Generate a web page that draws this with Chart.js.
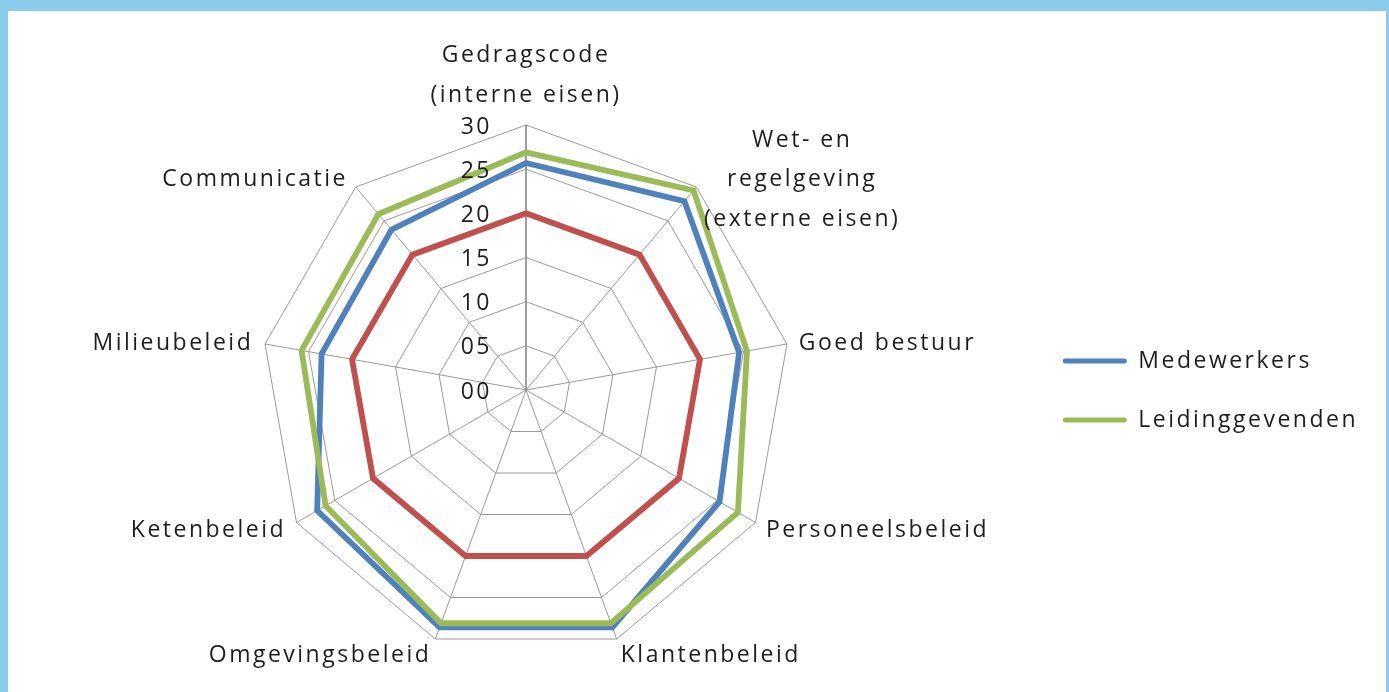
<!DOCTYPE html>
<html>
<head>
<meta charset="utf-8">
<script src="https://cdn.jsdelivr.net/npm/chart.js@4.4.1/dist/chart.umd.min.js"></script>
<style>
html, body { margin: 0; padding: 0; width: 1389px; height: 692px; overflow: hidden; background: #89CCEB; }
#box { position: absolute; left: 8px; top: 11px; width: 1378px; height: 681px; background: #ffffff; }
canvas { display: block; }
</style>
</head>
<body>
<div id="box"><canvas id="c" width="1378" height="681"></canvas></div>
<script>
// ---- data ----
const categories = [
  ['Gedragscode', '(interne eisen)'],
  ['Wet- en', 'regelgeving', '(externe eisen)'],
  'Goed bestuur',
  'Personeelsbeleid',
  'Klantenbeleid',
  'Omgevingsbeleid',
  'Ketenbeleid',
  'Milieubeleid',
  'Communicatie'
];
const medewerkers     = [25.7, 27.9, 24.5, 25.3, 28.6, 28.6, 27.3, 23.5, 23.7];
const referentie      = [20, 20, 20, 20, 20, 20, 20, 20, 20];
const leidinggevenden = [26.9, 29.5, 25.4, 27.7, 28.1, 28.1, 26.2, 25.8, 26.0];
const tickLabels = ['00', '05', '10', '15', '20', '25', '30'];
const seriesNames = ['Medewerkers', '', 'Leidinggevenden'];

// ---- styling ----
const BLUE = '#4F81BD', RED = '#C0504D', GREEN = '#9BBB59';
const TEXT = '#1e1e1e';
const FAMILY = '"Open Sans", sans-serif';
const FSIZE = 23;
const SPACING = '2.5px';
const LINE_H = 39.5;

const excelLabels = {
  id: 'excelLabels',
  beforeInit(chart) { chart.ctx.letterSpacing = SPACING; },
  beforeLayout(chart) { chart.ctx.letterSpacing = SPACING; },
  beforeDraw(chart) { chart.ctx.letterSpacing = SPACING; },
  afterDatasetsDraw(chart) {
    const ctx = chart.ctx, s = chart.scales.r;
    ctx.save();
    ctx.letterSpacing = SPACING;
    ctx.font = FSIZE + 'px ' + FAMILY;
    ctx.fillStyle = TEXT;
    ctx.textBaseline = 'middle';
    // value-axis tick labels, left of the vertical axis
    ctx.textAlign = 'right';
    s.ticks.forEach((t, i) => {
      const d = s.getDistanceFromCenterForValue(t.value);
      ctx.fillText(tickLabels[i], s.xCenter - 34, s.yCenter - d + 2);
    });
    // category labels
    chart.data.labels.forEach((lab, i) => {
      const lines = Array.isArray(lab) ? lab : [lab];
      const p = s.getPointPosition(i, s.drawingArea + 12);
      const w = Math.max(...lines.map(l => ctx.measureText(l).width));
      const dx = p.x - s.xCenter;
      let left;
      if (Math.abs(dx) < 1) left = p.x - w / 2;
      else if (dx > 0) left = p.x;
      else left = p.x - w;
      let top;
      if (Math.abs(dx) < 1 && p.y < s.yCenter) top = p.y - lines.length * LINE_H;
      else top = p.y - lines.length * LINE_H / 2;
      const extra = (p.y > s.yCenter + s.drawingArea * 0.8) ? 3 : 0;
      ctx.textAlign = 'center';
      lines.forEach((l, k) => ctx.fillText(l, left + w / 2, top + (k + 0.5) * LINE_H + 2 + extra));
    });
    ctx.restore();
  }
};

const mkSet = (name, data, color, order) => ({
  label: name, data: data,
  borderColor: color, backgroundColor: color,
  borderWidth: 5.8, pointRadius: 0, pointHoverRadius: 0,
  fill: false, tension: 0, order: order
});

new Chart(document.getElementById('c'), {
  type: 'radar',
  data: {
    labels: categories,
    datasets: [
      mkSet(seriesNames[0], medewerkers, BLUE, 2),
      mkSet(seriesNames[1], referentie, RED, 1),
      mkSet(seriesNames[2], leidinggevenden, GREEN, 0)
    ]
  },
  options: {
    responsive: false,
    animation: false,
    devicePixelRatio: 1,
    layout: { padding: { left: 19, top: 114, right: 18, bottom: 36 } },
    scales: {
      r: {
        min: 0, max: 30,
        ticks: { stepSize: 5, display: false, callback: (v, i) => tickLabels[i] },
        pointLabels: { display: false },
        grid: { color: '#9a9a9a', lineWidth: 1 },
        angleLines: {
          color: c => c.index === 0 ? '#858585' : '#9a9a9a',
          lineWidth: c => c.index === 0 ? 1.6 : 1
        }
      }
    },
    plugins: {
      tooltip: { enabled: false },
      legend: {
        position: 'right',
        labels: {
          font: { family: FAMILY, size: FSIZE },
          color: TEXT,
          boxWidth: 64,
          boxHeight: 5,
          padding: 36,
          useBorderRadius: true,
          borderRadius: 2.5,
          sort: (a, b) => a.datasetIndex - b.datasetIndex,
          filter: item => item.text !== '',
          generateLabels: chart => Chart.defaults.plugins.legend.labels.generateLabels(chart)
            .map(it => Object.assign(it, { lineWidth: 0 }))
        }
      }
    }
  },
  plugins: [excelLabels]
});
</script>
</body>
</html>
